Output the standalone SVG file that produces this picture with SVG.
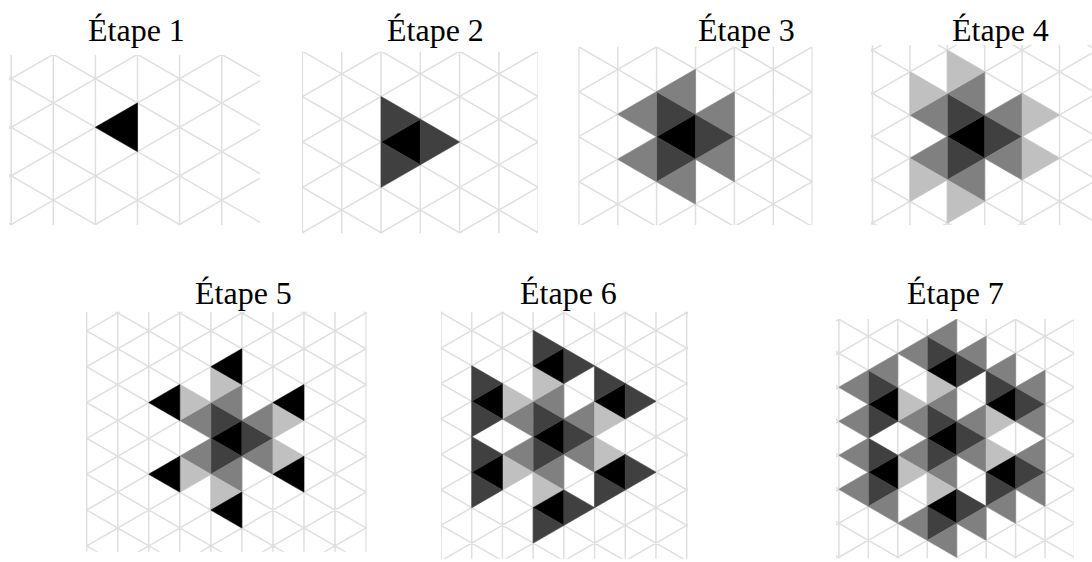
<svg xmlns="http://www.w3.org/2000/svg" xmlns:xlink="http://www.w3.org/1999/xlink" width="1092" height="562" viewBox="0 0 1092 562">
<style>
.t{font-family:"Liberation Serif","Times New Roman",serif;font-size:32px;fill:#000}
.g{fill:none;stroke:#dfdfdf;stroke-width:1.5}
.k{fill:#000;stroke:#000}
.d{fill:#404040;stroke:#404040}
.m{fill:#808080;stroke:#808080}
.l{fill:#c0c0c0;stroke:#c0c0c0}
</style>
<defs>
<path id="grid" class="g" vector-effect="non-scaling-stroke" d="M-1-4V22M0-4V22M1-4V22M2-4V22M3-4V22M4-4V22M5-4V22M6-4V22M7-4V22M8-4V22M9-4V22M10-4V22M-1-13l12 12M-1-11l12 12M-1-9l12 12M-1-7l12 12M-1-5l12 12M-1-3l12 12M-1-1l12 12M-1 1l12 12M-1 3l12 12M-1 5l12 12M-1 7l12 12M-1 9l12 12M-1 11l12 12M-1 13l12 12M-1 15l12 12M-1 17l12 12M-1 19l12 12M-1-1l12-12M-1 1l12-12M-1 3l12-12M-1 5l12-12M-1 7l12-12M-1 9l12-12M-1 11l12-12M-1 13l12-12M-1 15l12-12M-1 17l12-12M-1 19l12-12M-1 21l12-12M-1 23l12-12M-1 25l12-12M-1 27l12-12M-1 29l12-12M-1 31l12-12"/>
<polygon id="L" points="0,0 1,-1 1,1" stroke-width="0.6" vector-effect="non-scaling-stroke"/>
<polygon id="R" points="0,-1 0,1 1,0" stroke-width="0.6" vector-effect="non-scaling-stroke"/>
<clipPath id="c1"><rect x="9" y="55" width="251" height="170"/></clipPath>
<clipPath id="c2"><rect x="302" y="51.7" width="236" height="181.6"/></clipPath>
<clipPath id="c3"><rect x="578.3" y="46.7" width="234.4" height="178.3"/></clipPath>
<clipPath id="c4"><rect x="871" y="45" width="221" height="180"/></clipPath>
<clipPath id="c5"><rect x="86" y="311.7" width="280.7" height="240"/></clipPath>
<clipPath id="c6"><rect x="441" y="311.7" width="247" height="247"/></clipPath>
<clipPath id="c7"><rect x="836" y="319" width="238" height="239.3"/></clipPath>
</defs>
<rect width="1092" height="562" fill="#fff"/>

<g id="etape1">
<text class="t" x="88" y="41">Étape 1</text>
<g clip-path="url(#c1)"><g transform="translate(11.2,30.1) scale(42.1,24.3)">
<use href="#grid"/>
<use href="#L" x="2" y="4" class="k"/>
</g></g>
</g>

<g id="etape2">
<text class="t" x="387" y="41">Étape 2</text>
<g clip-path="url(#c2)"><g transform="translate(302.4,51.2) scale(39.3,22.69)">
<use href="#grid"/>
<use href="#L" x="2" y="4" class="k"/>
<use href="#R" x="2" y="3" class="d"/><use href="#R" x="3" y="4" class="d"/><use href="#R" x="2" y="5" class="d"/>
</g></g>
</g>

<g id="etape3">
<text class="t" x="698" y="41">Étape 3</text>
<g clip-path="url(#c3)"><g transform="translate(578.8,46.9) scale(38.9,22.46)">
<use href="#grid"/>
<use href="#L" x="2" y="4" class="k"/>
<use href="#R" x="2" y="3" class="d"/><use href="#R" x="3" y="4" class="d"/><use href="#R" x="2" y="5" class="d"/>
<use href="#L" x="3" y="3" class="m"/><use href="#L" x="3" y="5" class="m"/><use href="#L" x="1" y="3" class="m"/><use href="#L" x="2" y="2" class="m"/><use href="#L" x="1" y="5" class="m"/><use href="#L" x="2" y="6" class="m"/>
</g></g>
</g>

<g id="etape4">
<text class="t" x="952" y="41">Étape 4</text>
<g clip-path="url(#c4)"><g transform="translate(872.5,50.2) scale(37.4,21.6)">
<use href="#grid"/>
<use href="#L" x="2" y="4" class="k"/>
<use href="#R" x="2" y="3" class="d"/><use href="#R" x="3" y="4" class="d"/><use href="#R" x="2" y="5" class="d"/>
<use href="#L" x="3" y="3" class="m"/><use href="#L" x="3" y="5" class="m"/><use href="#L" x="1" y="3" class="m"/><use href="#L" x="2" y="2" class="m"/><use href="#L" x="1" y="5" class="m"/><use href="#L" x="2" y="6" class="m"/>
<use href="#R" x="4" y="3" class="l"/><use href="#R" x="4" y="5" class="l"/><use href="#R" x="2" y="1" class="l"/><use href="#R" x="1" y="2" class="l"/><use href="#R" x="1" y="6" class="l"/><use href="#R" x="2" y="7" class="l"/>
</g></g>
</g>

<g id="etape5">
<text class="t" x="195" y="304">Étape 5</text>
<g clip-path="url(#c5)"><g transform="translate(86.7,295) scale(31.04,17.92)">
<use href="#grid"/>
<use href="#L" x="4" y="8" class="k"/>
<use href="#R" x="4" y="7" class="d"/><use href="#R" x="5" y="8" class="d"/><use href="#R" x="4" y="9" class="d"/>
<use href="#L" x="5" y="7" class="m"/><use href="#L" x="5" y="9" class="m"/><use href="#L" x="3" y="7" class="m"/><use href="#L" x="4" y="6" class="m"/><use href="#L" x="3" y="9" class="m"/><use href="#L" x="4" y="10" class="m"/>
<use href="#R" x="6" y="7" class="l"/><use href="#R" x="6" y="9" class="l"/><use href="#R" x="4" y="5" class="l"/><use href="#R" x="3" y="6" class="l"/><use href="#R" x="3" y="10" class="l"/><use href="#R" x="4" y="11" class="l"/>
<use href="#L" x="6" y="6" class="k"/><use href="#L" x="6" y="10" class="k"/><use href="#L" x="4" y="4" class="k"/><use href="#L" x="2" y="6" class="k"/><use href="#L" x="2" y="10" class="k"/><use href="#L" x="4" y="12" class="k"/>
</g></g>
</g>

<g id="etape6">
<text class="t" x="520" y="304">Étape 6</text>
<g clip-path="url(#c6)"><g transform="translate(441,312.6) scale(30.71,17.73)">
<use href="#grid"/>
<use href="#L" x="3" y="7" class="k"/>
<use href="#R" x="3" y="6" class="d"/><use href="#R" x="4" y="7" class="d"/><use href="#R" x="3" y="8" class="d"/>
<use href="#L" x="4" y="6" class="m"/><use href="#L" x="4" y="8" class="m"/><use href="#L" x="2" y="6" class="m"/><use href="#L" x="3" y="5" class="m"/><use href="#L" x="2" y="8" class="m"/><use href="#L" x="3" y="9" class="m"/>
<use href="#R" x="5" y="6" class="l"/><use href="#R" x="5" y="8" class="l"/><use href="#R" x="3" y="4" class="l"/><use href="#R" x="2" y="5" class="l"/><use href="#R" x="2" y="9" class="l"/><use href="#R" x="3" y="10" class="l"/>
<use href="#L" x="5" y="5" class="k"/><use href="#L" x="5" y="9" class="k"/><use href="#L" x="3" y="3" class="k"/><use href="#L" x="1" y="5" class="k"/><use href="#L" x="1" y="9" class="k"/><use href="#L" x="3" y="11" class="k"/>
<use href="#R" x="6" y="5" class="d"/><use href="#R" x="5" y="4" class="d"/><use href="#R" x="6" y="9" class="d"/><use href="#R" x="5" y="10" class="d"/><use href="#R" x="4" y="3" class="d"/><use href="#R" x="3" y="2" class="d"/><use href="#R" x="1" y="4" class="d"/><use href="#R" x="1" y="6" class="d"/><use href="#R" x="1" y="8" class="d"/><use href="#R" x="1" y="10" class="d"/><use href="#R" x="4" y="11" class="d"/><use href="#R" x="3" y="12" class="d"/>
</g></g>
</g>

<g id="etape7">
<text class="t" x="907" y="304">Étape 7</text>
<g clip-path="url(#c7)"><g transform="translate(838.9,251.3) scale(29.45,17)">
<use href="#grid"/>
<use href="#L" x="3" y="11" class="k"/>
<use href="#R" x="3" y="10" class="d"/><use href="#R" x="4" y="11" class="d"/><use href="#R" x="3" y="12" class="d"/>
<use href="#L" x="4" y="10" class="m"/><use href="#L" x="4" y="12" class="m"/><use href="#L" x="2" y="10" class="m"/><use href="#L" x="3" y="9" class="m"/><use href="#L" x="2" y="12" class="m"/><use href="#L" x="3" y="13" class="m"/>
<use href="#R" x="5" y="10" class="l"/><use href="#R" x="5" y="12" class="l"/><use href="#R" x="3" y="8" class="l"/><use href="#R" x="2" y="9" class="l"/><use href="#R" x="2" y="13" class="l"/><use href="#R" x="3" y="14" class="l"/>
<use href="#L" x="5" y="9" class="k"/><use href="#L" x="5" y="13" class="k"/><use href="#L" x="3" y="7" class="k"/><use href="#L" x="1" y="9" class="k"/><use href="#L" x="1" y="13" class="k"/><use href="#L" x="3" y="15" class="k"/>
<use href="#R" x="6" y="9" class="d"/><use href="#R" x="5" y="8" class="d"/><use href="#R" x="6" y="13" class="d"/><use href="#R" x="5" y="14" class="d"/><use href="#R" x="4" y="7" class="d"/><use href="#R" x="3" y="6" class="d"/><use href="#R" x="1" y="8" class="d"/><use href="#R" x="1" y="10" class="d"/><use href="#R" x="1" y="12" class="d"/><use href="#R" x="1" y="14" class="d"/><use href="#R" x="4" y="15" class="d"/><use href="#R" x="3" y="16" class="d"/>
<use href="#L" x="6" y="8" class="m"/><use href="#L" x="6" y="10" class="m"/><use href="#L" x="5" y="7" class="m"/><use href="#L" x="6" y="12" class="m"/><use href="#L" x="6" y="14" class="m"/><use href="#L" x="5" y="15" class="m"/><use href="#L" x="4" y="6" class="m"/><use href="#L" x="2" y="6" class="m"/><use href="#L" x="3" y="5" class="m"/><use href="#L" x="0" y="8" class="m"/><use href="#L" x="1" y="7" class="m"/><use href="#L" x="0" y="10" class="m"/><use href="#L" x="0" y="12" class="m"/><use href="#L" x="0" y="14" class="m"/><use href="#L" x="1" y="15" class="m"/><use href="#L" x="4" y="16" class="m"/><use href="#L" x="2" y="16" class="m"/><use href="#L" x="3" y="17" class="m"/>
</g></g>
</g>
</svg>
